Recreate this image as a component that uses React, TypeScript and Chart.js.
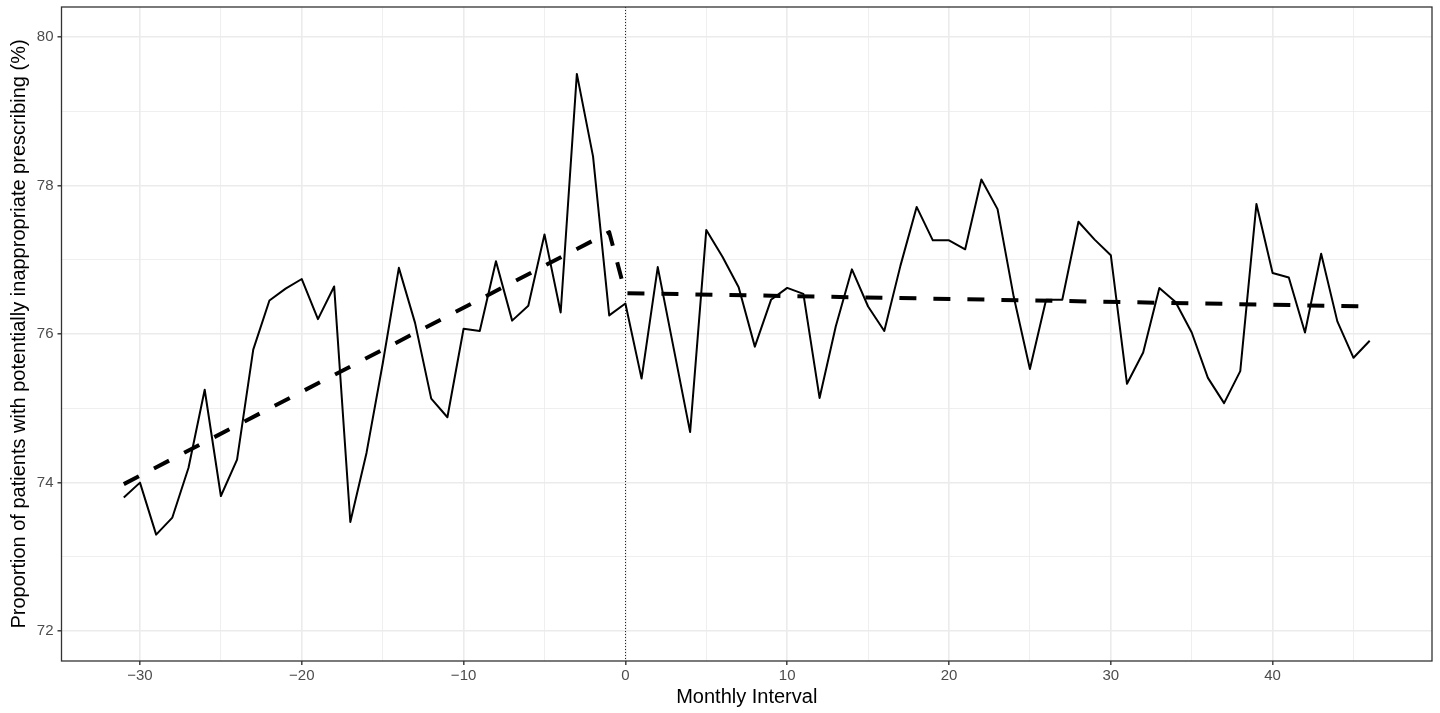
import React, { useEffect, useRef } from 'react';
import { Chart, registerables } from 'chart.js';

Chart.register(...registerables);

// ---- Data ----
const months = [
  -31, -30, -29, -28, -27, -26, -25, -24, -23, -22, -21, -20, -19, -18, -17, -16,
  -15, -14, -13, -12, -11, -10, -9, -8, -7, -6, -5, -4, -3, -2, -1, 0,
  1, 2, 3, 4, 5, 6, 7, 8, 9, 10, 11, 12, 13, 14, 15, 16,
  17, 18, 19, 20, 21, 22, 23, 24, 25, 26, 27, 28, 29, 30, 31, 32,
  33, 34, 35, 36, 37, 38, 39, 40, 41, 42, 43, 44, 45, 46,
];

const observed = [
  73.80, 74.00, 73.30, 73.53, 74.20, 75.25, 73.82, 74.31, 75.79, 76.45, 76.61, 76.74, 76.20, 76.64, 73.47, 74.40,
  75.60, 76.89, 76.15, 75.13, 74.88, 76.07, 76.04, 76.98, 76.18, 76.38, 77.34, 76.29, 79.50, 78.39, 76.25, 76.41,
  75.40, 76.90, 75.79, 74.68, 77.40, 77.04, 76.63, 75.83, 76.46, 76.62, 76.54, 75.14, 76.10, 76.87, 76.37, 76.04,
  76.92, 77.71, 77.26, 77.26, 77.14, 78.08, 77.68, 76.50, 75.53, 76.46, 76.46, 77.51, 77.27, 77.06, 75.33, 75.75,
  76.62, 76.43, 76.02, 75.41, 75.07, 75.50, 77.75, 76.82, 76.76, 76.02, 77.08, 76.17, 75.68, 75.91,
];

// Segmented regression fitted line (pre-period end points, post-period end points)
const trendMonths = [-31, -1, 0, 46];
const trendValues = [73.98, 77.37, 76.55, 76.37];

const interventionMonth = 0;

const xMajorTicks = [-30, -20, -10, 0, 10, 20, 30, 40];
const xTickLabels = ['\u221230', '\u221220', '\u221210', '0', '10', '20', '30', '40'];
const xMinorTicks = [-25, -15, -5, 5, 15, 25, 35, 45];
const yMajorTicks = [72, 74, 76, 78, 80];
const yTickLabels = ['72', '74', '76', '78', '80'];
const yMinorTicks = [73, 75, 77, 79];
const xLimits = [-34.85, 49.85];
const yLimits = [71.6, 80.4];

const xTitle = 'Monthly Interval';
const yTitle = 'Proportion of patients with potentially inappropriate prescribing (%)';

const FONT = "'Liberation Sans', Arial, Helvetica, sans-serif";

export default function App() {
  const canvasRef = useRef<HTMLCanvasElement | null>(null);

  useEffect(() => {
    const canvas = canvasRef.current;
    if (!canvas) return;

    const framePlugin = {
      id: 'frame',
      beforeDatasetsDraw(chart: any) {
        const { ctx, chartArea, scales } = chart;
        const px = scales.x.getPixelForValue(interventionMonth);
        ctx.save();
        ctx.strokeStyle = '#222222';
        ctx.lineWidth = 1;
        ctx.setLineDash([1, 2]);
        ctx.beginPath();
        ctx.moveTo(Math.round(px) + 0.5, chartArea.top);
        ctx.lineTo(Math.round(px) + 0.5, chartArea.bottom);
        ctx.stroke();
        ctx.restore();
      },
      afterDraw(chart: any) {
        const { ctx, chartArea } = chart;
        ctx.save();
        ctx.strokeStyle = '#333333';
        ctx.lineWidth = 1.3;
        ctx.strokeRect(chartArea.left, chartArea.top, chartArea.right - chartArea.left, chartArea.bottom - chartArea.top);
        ctx.restore();
      },
    };

    const xLabelOf = (v: number) => {
      const i = xMajorTicks.indexOf(v);
      return i >= 0 ? xTickLabels[i] : '';
    };
    const yLabelOf = (v: number) => {
      const i = yMajorTicks.indexOf(v);
      return i >= 0 ? yTickLabels[i] : '';
    };

    const chart = new Chart(canvas, {
      type: 'line',
      data: {
        datasets: [
          {
            label: 'Trend',
            data: trendMonths.map((m, i) => ({ x: m, y: trendValues[i] })),
            borderColor: '#000000',
            borderWidth: 4,
            borderDash: [17, 17],
            borderCapStyle: 'butt',
            borderJoinStyle: 'round',
            pointRadius: 0,
            fill: false,
            tension: 0,
          },
          {
            label: 'Observed',
            data: months.map((m, i) => ({ x: m, y: observed[i] })),
            borderColor: '#000000',
            borderWidth: 2,
            borderJoinStyle: 'round',
            borderCapStyle: 'butt',
            pointRadius: 0,
            fill: false,
            tension: 0,
          },
        ],
      },
      options: {
        animation: false,
        responsive: true,
        maintainAspectRatio: false,
        layout: { padding: { top: 7, right: 8, left: 0, bottom: 0 } },
        plugins: {
          legend: { display: false },
          tooltip: { enabled: false },
        },
        scales: {
          x: {
            type: 'linear',
            min: xLimits[0],
            max: xLimits[1],
            afterBuildTicks: (s: any) => {
              s.ticks = [...xMajorTicks, ...xMinorTicks].sort((a, b) => a - b).map((v) => ({ value: v }));
            },
            afterFit: (s: any) => {
              s.height = 52;
              s.paddingLeft = 0;
              s.paddingRight = 0;
            },
            border: { display: false },
            grid: {
              color: '#EBEBEB',
              lineWidth: (c: any) => (xMajorTicks.includes(c.tick?.value) ? 1.6 : 0.8),
              tickColor: (c: any) => (xMajorTicks.includes(c.tick?.value) ? '#333333' : 'rgba(0,0,0,0)'),
              tickLength: 4,
              tickWidth: 1.4,
              drawTicks: true,
            },
            ticks: {
              autoSkip: false,
              maxRotation: 0,
              padding: 2,
              color: '#4D4D4D',
              font: { family: FONT, size: 15 },
              callback: (v: any) => xLabelOf(Number(v)),
            },
            title: {
              display: true,
              text: xTitle,
              color: '#000000',
              font: { family: FONT, size: 20 },
              padding: { top: 0, bottom: 4 },
            },
          },
          y: {
            type: 'linear',
            min: yLimits[0],
            max: yLimits[1],
            afterBuildTicks: (s: any) => {
              s.ticks = [...yMajorTicks, ...yMinorTicks].sort((a, b) => a - b).map((v) => ({ value: v }));
            },
            afterFit: (s: any) => {
              s.width = 61.5;
              s.paddingTop = 0;
              s.paddingBottom = 0;
            },
            border: { display: false },
            grid: {
              color: '#EBEBEB',
              lineWidth: (c: any) => (yMajorTicks.includes(c.tick?.value) ? 1.6 : 0.8),
              tickColor: (c: any) => (yMajorTicks.includes(c.tick?.value) ? '#333333' : 'rgba(0,0,0,0)'),
              tickLength: 4,
              tickWidth: 1.4,
              drawTicks: true,
            },
            ticks: {
              autoSkip: false,
              padding: 4,
              color: '#4D4D4D',
              font: { family: FONT, size: 15 },
              callback: (v: any) => yLabelOf(Number(v)),
            },
            title: {
              display: true,
              text: yTitle,
              color: '#000000',
              font: { family: FONT, size: 20 },
              padding: { top: 7, bottom: 0 },
            },
          },
        },
      } as any,
      plugins: [framePlugin],
    });

    return () => {
      chart.destroy();
    };
  }, []);

  return (
    <div style={{ position: 'absolute', left: 0, top: 0, width: 1440, height: 713, background: '#ffffff' }}>
      <canvas ref={canvasRef} />
    </div>
  );
}
